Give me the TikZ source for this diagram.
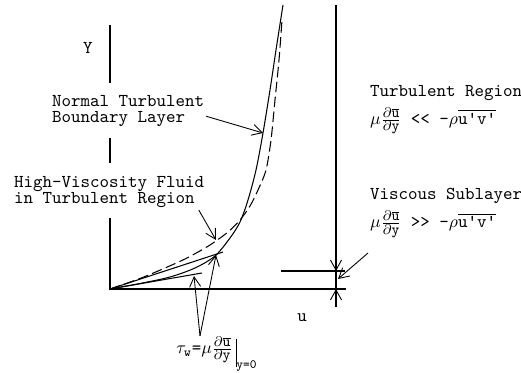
\documentclass[tikz,border=0pt]{standalone}
\usepackage{amsmath}
\usepackage{fontspec}
\usetikzlibrary{arrows.meta,positioning}

\newcommand{\fs}{\fontsize{8.5}{8.5}\selectfont}
\newcommand{\dudy}{\frac{\text{\fs$\partial$}\overline{\text{\fs u}}}{\text{\fs$\partial$y}}}

\begin{document}
\begin{tikzpicture}[every node/.style={font=\ttfamily\fontsize{10.3}{9.5}\selectfont}]
  \tikzstyle{txt} = [align=left, inner sep=1pt]
  \tikzstyle{axis} = [line width=0.9pt]
  \tikzstyle{curve} = [line width=0.6pt]
  \tikzstyle{arrow} = [-{Straight Barb[length=2mm,width=2.2mm]}, line width=0.5pt]
  \useasboundingbox (-2.2,-1.68) rectangle (8.22,5.78);

  % axes
  \coordinate (O) at (0,0);
  \draw[axis] (0,5.28) -- (0,4.12);
  \draw[axis] (0,3.02) -- (0,2.52);
  \draw[axis] (0,1.42) -- (O) -- (4.72,0);
  \node (yl) at (-0.44,4.82) {Y};
  \node (ul) at (3.84,-0.58) {u};

  % edge of sublayer
  \coordinate (subtop) at (4.52,0.36);
  \coordinate (wall) at (4.52,0);
  \draw[axis] (4.52,5.68) -- (4.52,-0.36);
  \draw[curve] (3.42,0.36) -- (4.7,0.36);
  \draw[arrow] (4.52,0.8) -- (subtop);
  \draw[arrow] (4.52,-0.36) -- (wall);

  % velocity profiles
  \draw[curve] plot[smooth] coordinates {(0,0) (0.6,0.11) (1.2,0.24) (1.7,0.42) (2.1,0.66)
    (2.4,1.02) (2.6,1.34) (2.76,1.78) (2.92,2.38) (3.06,3.12) (3.2,3.98) (3.32,4.78) (3.46,5.68)};
  \draw[curve, dash pattern=on 6pt off 2.5pt] plot[smooth] coordinates {(0,0) (0.6,0.21) (1.1,0.42)
    (1.54,0.62) (2.0,0.88) (2.36,1.14) (2.6,1.38) (2.8,1.66) (2.96,1.98) (3.12,2.38) (3.22,2.98)
    (3.3,3.78) (3.38,4.58) (3.44,5.38)};
  % wall slopes
  \draw[curve] (O) -- (2.26,0.74);
  \draw[curve] (O) -- (1.84,0.32);

  % labels
  \node[txt, anchor=west] (ntbl) at (-1.2,3.56) {Normal Turbulent\\Boundary Layer};
  \node[txt, anchor=west] (hv) at (-1.96,1.94) {High-Viscosity Fluid\\in Turbulent Region};
  \node[txt, anchor=west] (turb) at (5.16,3.92) {Turbulent Region};
  \node[txt, below right=0.06cm and 0cm of turb.south west] (turbeq) {$\mu\dudy$ << -$\rho\overline{\text{u'v'}}$};
  \node[txt, anchor=west] (visc) at (5.16,1.86) {Viscous Sublayer};
  \node[txt, below right=0.06cm and 0cm of visc.south west] (visceq) {$\mu\dudy$ >> -$\rho\overline{\text{u'v'}}$};
  \node[txt] (tau) at (2.14,-1.3) {$\tau_{\text{w}}\text{=}\mu\dudy\,{\rule[-8pt]{0.5pt}{16pt}}_{\text{y=0}}$};

  % pointers
  \coordinate (ntip) at (3.06,3.12);
  \coordinate (htip) at (2.12,0.98);
  \coordinate (tw) at (1.8,-0.94);
  \coordinate (slope1) at (1.68,0.26);
  \coordinate (slope2) at (2.12,0.68);
  \coordinate (vtail) at (5.16,0.72);
  \coordinate (vtip) at (4.56,0.2);
  \draw[arrow] ([yshift=-3pt]ntbl.east) -- (ntip);
  \draw[arrow] ([xshift=-0.15cm]hv.south east) -- (htip);
  \draw[arrow] (tw) -- (slope1);
  \draw[arrow] (tw) -- (slope2);
  \draw[arrow] (vtail) -- (vtip);
\end{tikzpicture}
\end{document}
